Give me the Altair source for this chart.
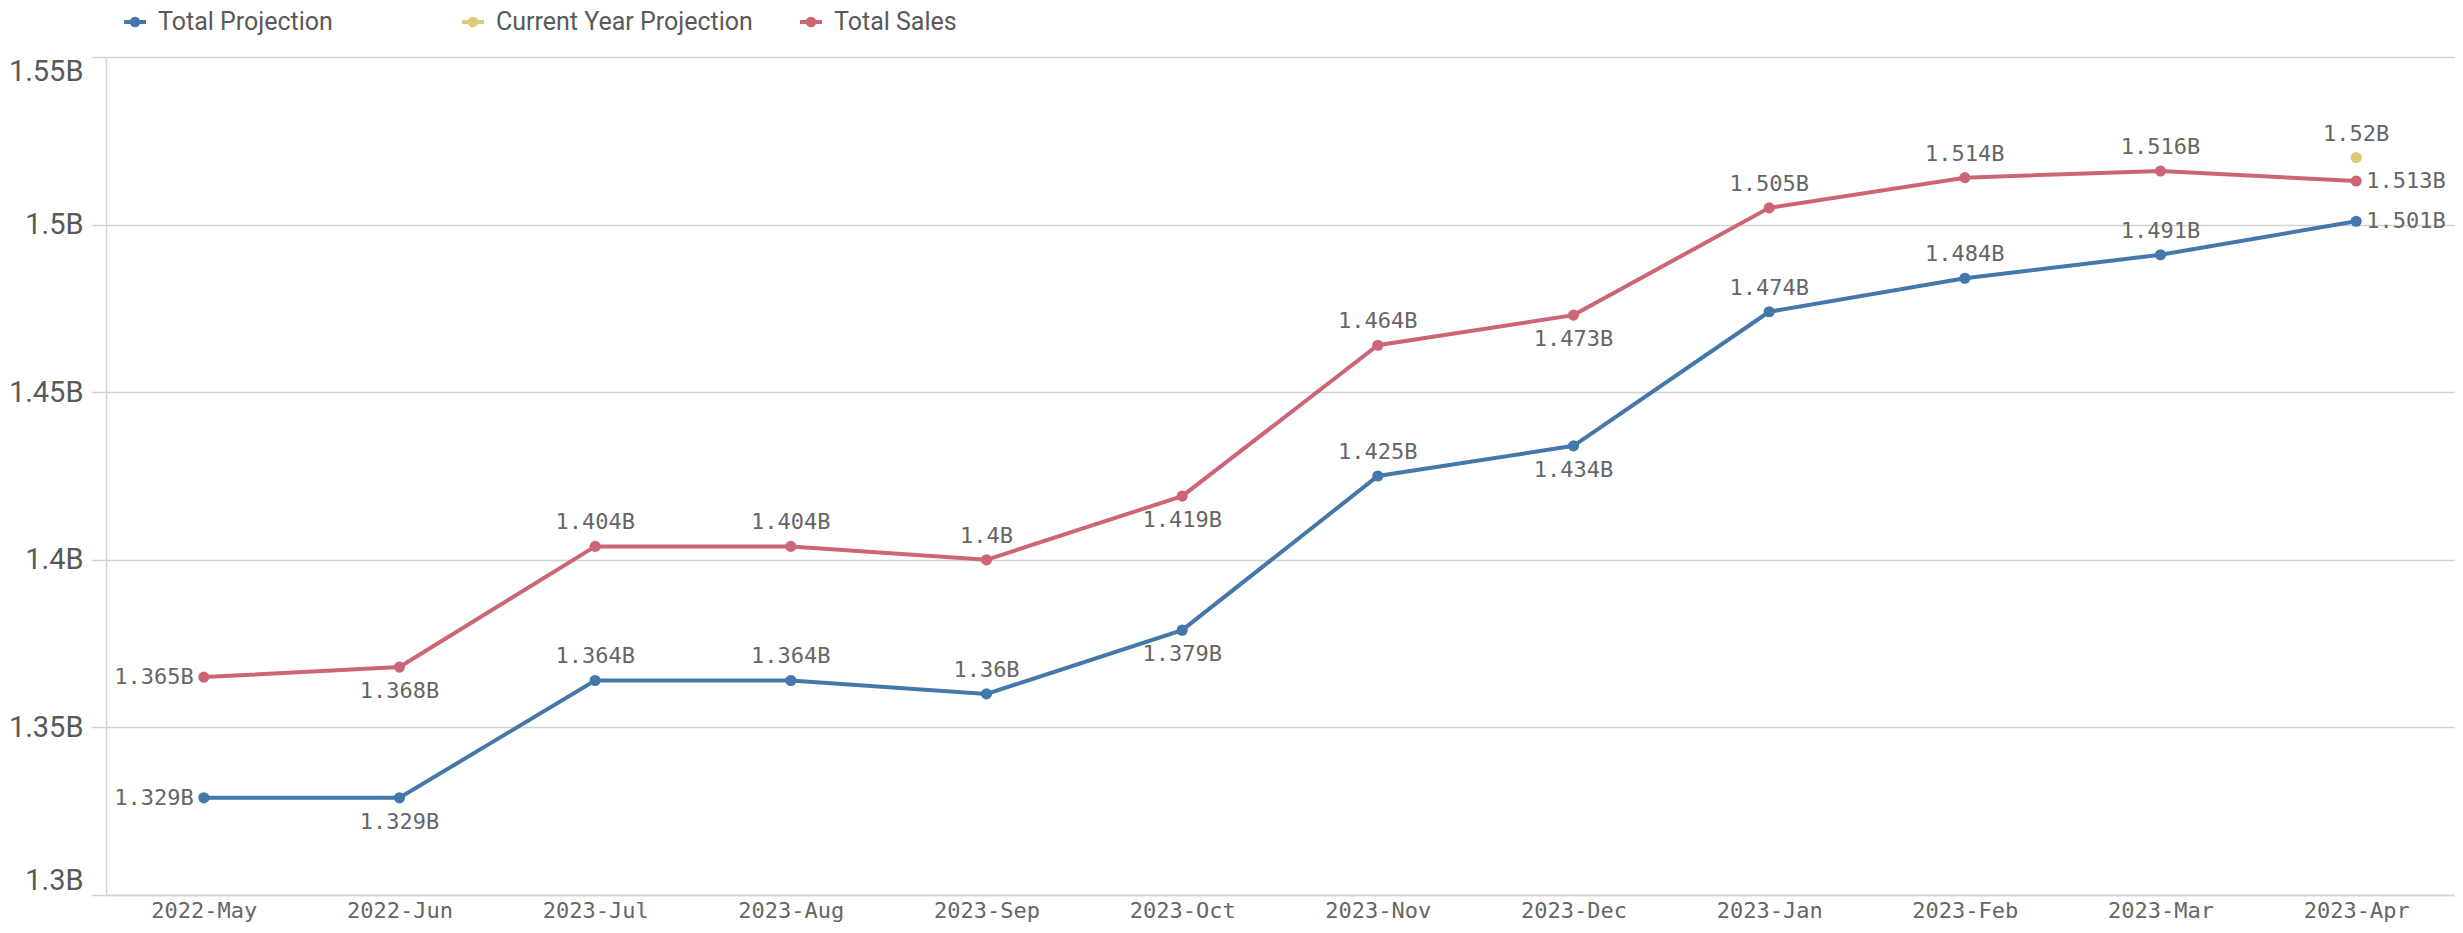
import altair as alt
import pandas as pd

months = ["2022-May", "2022-Jun", "2023-Jul", "2023-Aug", "2023-Sep", "2023-Oct",
          "2023-Nov", "2023-Dec", "2023-Jan", "2023-Feb", "2023-Mar", "2023-Apr"]
total_projection = [1.329e9, 1.329e9, 1.364e9, 1.364e9, 1.360e9, 1.379e9,
                    1.425e9, 1.434e9, 1.474e9, 1.484e9, 1.491e9, 1.501e9]
current_year_projection = [None, None, None, None, None, None,
                           None, None, None, None, None, 1.520e9]
total_sales = [1.365e9, 1.368e9, 1.404e9, 1.404e9, 1.400e9, 1.419e9,
               1.464e9, 1.473e9, 1.505e9, 1.514e9, 1.516e9, 1.513e9]
series_names = ["Total Projection", "Current Year Projection", "Total Sales"]
series_colors = ["#4477aa", "#ddcc77", "#cc6677"]
y_ticks = [1.30e9, 1.35e9, 1.40e9, 1.45e9, 1.50e9, 1.55e9]
labels_below = ["2022-Jun", "2023-Oct", "2023-Dec"]

rows = []
for name, vals in zip(series_names, [total_projection, current_year_projection, total_sales]):
    for i, (m, v) in enumerate(zip(months, vals)):
        if v is not None:
            rows.append({"month": m, "idx": i, "series": name, "value": v})
df = pd.DataFrame(rows)

GRID = "#d2d2d2"
TXT = "#666666"

x_enc = alt.X("month:N", sort=months, title=None,
              scale=alt.Scale(type="point", padding=0.5),
              axis=alt.Axis(labelAngle=0, ticks=False, grid=False, domainColor=GRID,
                            domainWidth=1.5, labelFont="DejaVu Sans Mono", labelFontSize=22,
                            labelColor=TXT, labelPadding=5))
y_enc = alt.Y("value:Q", title=None,
              scale=alt.Scale(domain=[1.3e9, 1.55e9], nice=False, zero=False),
              axis=alt.Axis(values=y_ticks, labelExpr="format(datum.value/1e9,'.2~f')+'B'",
                            grid=True, gridColor=GRID, gridWidth=1.5,
                            domainColor=GRID, domainWidth=1.5,
                            tickColor=GRID, tickWidth=1.5, tickSize=15,
                            labelFont="Roboto", labelFontSize=29, labelColor="#595959",
                            labelPadding=8, labelFlush=True))

legend_symbol = ("M-1,0L1,0M0.3,0A0.3,0.3 0 1 1 -0.3,0A0.3,0.3 0 1 1 0.3,0"
                 "M0.15,0A0.15,0.15 0 1 1 -0.15,0A0.15,0.15 0 1 1 0.15,0")
color_enc = alt.Color("series:N", sort=series_names,
                      scale=alt.Scale(domain=series_names, range=series_colors),
                      legend=alt.Legend(title=None, orient="none", legendX=16, legendY=-48,
                                        direction="horizontal", columns=3, gridAlign="all",
                                        columnPadding=39, symbolType=legend_symbol,
                                        symbolSize=484, symbolStrokeWidth=4,
                                        labelFont="Roboto", labelFontSize=25,
                                        labelColor="#595959", labelOffset=10,
                                        labelLimit=600, padding=0))

lines = alt.Chart(df).mark_line(strokeWidth=4,
                                point=alt.OverlayMarkDef(filled=True, size=125, opacity=1)).encode(
    x=x_enc, y=y_enc, color=color_enc, order=alt.Order("idx:Q"))

text_base = alt.Chart(df).transform_calculate(
    label="format(datum.value/1e9,'.3~f')+'B'"
).encode(x=alt.X("month:N", sort=months, scale=alt.Scale(type="point", padding=0.5)),
         y=alt.Y("value:Q"), text="label:N")

first_m = months[0]
last_m = months[-1]
below_list = "[" + ",".join("'%s'" % m for m in labels_below) + "]"
expr_above = ("(datum.series == 'Current Year Projection') || "
              "(datum.month != '%s' && datum.month != '%s' && indexof(%s, datum.month) < 0)"
              % (first_m, last_m, below_list))
expr_below = "datum.series != 'Current Year Projection' && indexof(%s, datum.month) >= 0" % below_list
expr_left = "datum.month == '%s'" % first_m
expr_right = "datum.month == '%s' && datum.series != 'Current Year Projection'" % last_m

tstyle = dict(font="DejaVu Sans Mono", fontSize=22, color=TXT, baseline="middle")
above = text_base.transform_filter(expr_above).mark_text(align="center", dy=-24, **tstyle)
below = text_base.transform_filter(expr_below).mark_text(align="center", dy=24, **tstyle)
left = text_base.transform_filter(expr_left).mark_text(align="right", dx=-10, **tstyle)
right = text_base.transform_filter(expr_right).mark_text(align="left", dx=10, **tstyle)

chart = alt.layer(lines, above, below, left, right).properties(
    width=2348, height=838,
    autosize=alt.AutoSizeParams(type="none"),
    padding={"left": 98, "top": 49, "right": 1, "bottom": 28},
).configure_view(stroke=None)

chart.save("out.html", embed_options={"renderer": "svg", "actions": False})
